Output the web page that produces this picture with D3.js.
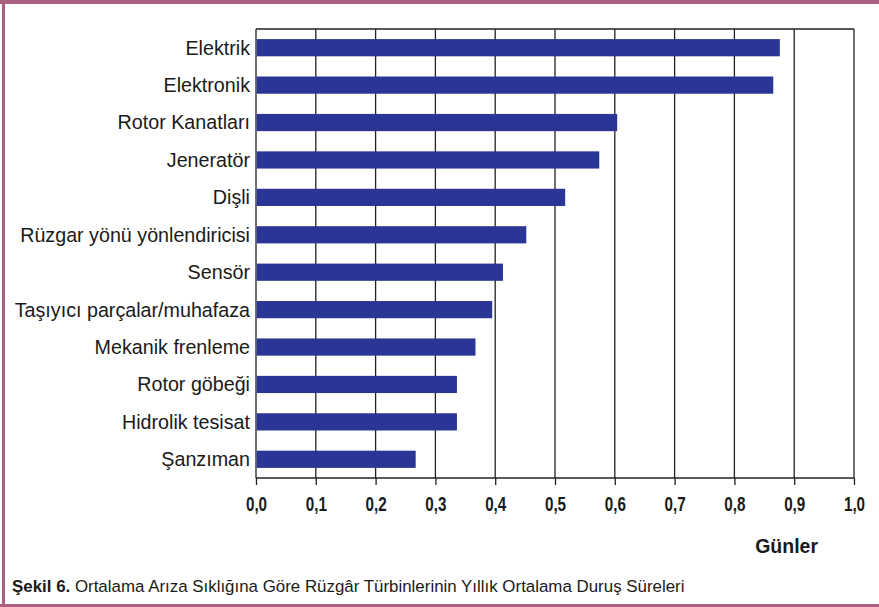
<!DOCTYPE html>
<html><head><meta charset="utf-8">
<script src="https://cdn.jsdelivr.net/npm/d3@7"></script>
<style>
html,body{margin:0;padding:0;background:#fff;}
svg{display:block;}
</style></head>
<body>
<svg id="chart" width="879" height="607"></svg>
<script>
const categories = ["Elektrik","Elektronik","Rotor Kanatları","Jeneratör","Dişli","Rüzgar yönü yönlendiricisi","Sensör","Taşıyıcı parçalar/muhafaza","Mekanik frenleme","Rotor göbeği","Hidrolik tesisat","Şanzıman"];
const values = [0.876,0.865,0.604,0.574,0.517,0.452,0.413,0.395,0.367,0.336,0.336,0.267];
const tickValues = [0,0.1,0.2,0.3,0.4,0.5,0.6,0.7,0.8,0.9,1.0];
const tickLabels = ["0,0","0,1","0,2","0,3","0,4","0,5","0,6","0,7","0,8","0,9","1,0"];
const axisTitle = "Günler";
const captionBold = "Şekil 6.";
const captionText = " Ortalama Arıza Sıklığına Göre Rüzgâr Türbinlerinin Yıllık Ortalama Duruş Süreleri";

const svg = d3.select("#chart");
const sans = "'Liberation Sans',Arial,sans-serif";

// frame
const border = "#a8617f";
svg.append("rect").attr("x",0).attr("y",0).attr("width",879).attr("height",4).attr("fill",border);
svg.append("rect").attr("x",2).attr("y",0).attr("width",3).attr("height",607).attr("fill",border);
svg.append("rect").attr("x",0).attr("y",604).attr("width",879).attr("height",3).attr("fill",border);

const pL = 256, pR = 854, pT = 29, pB = 478;
const x = d3.scaleLinear().domain([0,1]).range([pL,pR]);
const y = d3.scaleBand().domain(categories).range([pT,pB]).paddingInner(0.54).paddingOuter(0.27);

// gridlines
svg.append("g").selectAll("line").data(tickValues.slice(1)).join("line")
  .attr("x1",d=>x(d)).attr("x2",d=>x(d)).attr("y1",pT).attr("y2",pB)
  .attr("stroke","#222").attr("stroke-width",1.3);
svg.append("line").attr("x1",pL).attr("x2",pR).attr("y1",pT).attr("y2",pT).attr("stroke","#222").attr("stroke-width",1.3);
svg.append("line").attr("x1",pL).attr("x2",pL).attr("y1",pT).attr("y2",pB).attr("stroke","#222").attr("stroke-width",1.3);

// bars
svg.append("g").selectAll("rect").data(categories).join("rect")
  .attr("x",x(0)+0.7).attr("y",d=>y(d))
  .attr("width",(d,i)=>x(values[i])-x(0)-0.7).attr("height",y.bandwidth())
  .attr("fill","#2b3595");

// category labels
svg.append("g").selectAll("text").data(categories).join("text")
  .attr("x",250).attr("y",d=>y(d)+y.bandwidth()/2).attr("dy","0.35em")
  .attr("text-anchor","end").attr("font-family",sans).attr("font-size",19.7).attr("fill","#1a1a1a")
  .text(d=>d);

// x axis
const xAxis = d3.axisBottom(x).tickValues(tickValues).tickSize(7).tickFormat((d,i)=>tickLabels[i]);
const gx = svg.append("g").attr("transform",`translate(0,${pB})`).call(xAxis);
gx.select(".domain").attr("stroke","#222").attr("stroke-width",1.3).attr("d",`M${pL},0H${pR}`);
gx.selectAll(".tick line").attr("stroke","#222").attr("stroke-width",1.3);
gx.selectAll(".tick text").attr("font-family",sans).attr("font-weight","bold").attr("font-size",19.5)
  .attr("fill","#1a1a1a").attr("y",19).attr("dy","0.71em").attr("transform","scale(0.78,1)");

svg.append("text").attr("x",818).attr("y",553).attr("text-anchor","end")
  .attr("font-family",sans).attr("font-weight","bold").attr("font-size",19.5).attr("fill","#1a1a1a").text(axisTitle);

// caption
const cap = svg.append("text").attr("x",12).attr("y",592).attr("font-family",sans).attr("font-size",16.9).attr("fill","#1a1a1a");
cap.append("tspan").attr("font-weight","bold").text(captionBold);
cap.append("tspan").text(captionText);
</script>
</body></html>
